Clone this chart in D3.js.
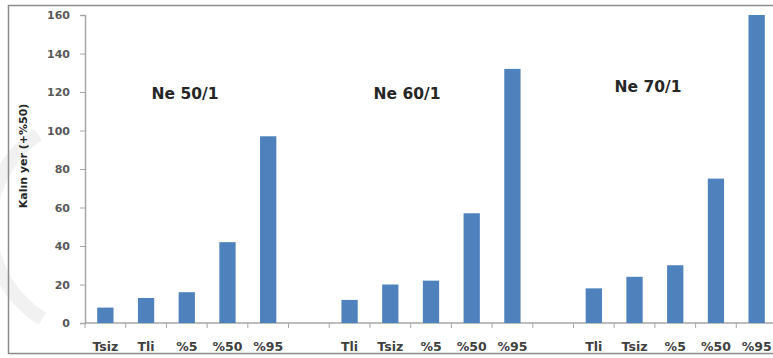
<!DOCTYPE html>
<html>
<head>
<meta charset="utf-8">
<script src="https://cdn.jsdelivr.net/npm/d3@7/dist/d3.min.js"></script>
<style>
  html, body { margin: 0; padding: 0; background: #fff; }
  svg { display: block; font-family: "DejaVu Sans", Verdana, sans-serif; }
</style>
</head>
<body>
<svg id="chart" width="773" height="358"></svg>
<script>
// Yarn count groups and their test categories
const groupNames = ["Ne 50/1", "Ne 60/1", "Ne 70/1"];
const labels50 = ["Tsiz", "Tli", "%5", "%50", "%95"];
const labels60 = ["Tli", "Tsiz", "%5", "%50", "%95"];
const labels70 = ["Tli", "Tsiz", "%5", "%50", "%95"];
// Thick places (+50%) per category
const values50 = [8, 13, 16, 42, 97];
const values60 = [12, 20, 22, 57, 132];
const values70 = [18, 24, 30, 75, 160];
const yTicks = [0, 20, 40, 60, 80, 100, 120, 140, 160];
const yTitle = "Kalın yer  (+%50)";

const groupLabels = [labels50, labels60, labels70];
const groupValues = [values50, values60, values70];

// Build slot list: five bars per group, one empty slot between groups
const slots = [];
groupNames.forEach((g, gi) => {
  groupLabels[gi].forEach((lab, i) => {
    slots.push({ key: g + "|" + lab, label: lab, value: groupValues[gi][i], group: g });
  });
  if (gi < groupNames.length - 1) slots.push({ key: "gap" + gi, label: "", value: null, group: null });
});

const svg = d3.select("#chart");
const W = 773, H = 358;
const plotLeft = 85, plotRight = 777, plotTop = 15, plotBottom = 323;

// Faint ring in the left margin
svg.append("path")
  .attr("d", d3.arc().innerRadius(103).outerRadius(117).startAngle(Math.PI + 0.55).endAngle(2 * Math.PI - 0.6)())
  .attr("transform", "translate(100,225)")
  .attr("fill", "#f1f1f1");

// Outer frame
svg.append("rect")
  .attr("x", 8.5).attr("y", 5.5)
  .attr("width", 780).attr("height", 348)
  .attr("fill", "none")
  .attr("stroke", "#8c8c8c")
  .attr("stroke-width", 1.5);

const x = d3.scaleBand()
  .domain(slots.map(d => d.key))
  .range([plotLeft, plotRight])
  .paddingInner(0.6)
  .paddingOuter(0.3);

const y = d3.scaleLinear().domain([0, 160]).range([plotBottom, plotTop]);

// Y axis
const yAxis = svg.append("g")
  .attr("transform", `translate(${plotLeft},0)`)
  .call(d3.axisLeft(y).tickValues(yTicks).tickSize(5).tickPadding(10));
yAxis.select(".domain").attr("stroke", "#a6a6a6").attr("stroke-width", 1.5);
yAxis.selectAll(".tick line").attr("stroke", "#a6a6a6");
yAxis.selectAll(".tick text")
  .attr("fill", "#595959")
  .attr("font-size", 11)
  .attr("font-weight", "bold")
  .attr("font-family", "DejaVu Sans, sans-serif");

// X axis baseline with ticks at slot boundaries
const bounds = d3.range(slots.length + 1).map(i => plotLeft + i * (plotRight - plotLeft) / slots.length);
svg.append("line")
  .attr("x1", plotLeft).attr("x2", W)
  .attr("y1", plotBottom).attr("y2", plotBottom)
  .attr("stroke", "#a6a6a6").attr("stroke-width", 1.5);
svg.append("g").selectAll("line")
  .data(bounds)
  .join("line")
  .attr("x1", d => d).attr("x2", d => d)
  .attr("y1", plotBottom).attr("y2", plotBottom + 5)
  .attr("stroke", "#a6a6a6");

// Bars
svg.append("g").selectAll("rect")
  .data(slots.filter(d => d.value !== null))
  .join("rect")
  .attr("x", d => x(d.key))
  .attr("y", d => y(d.value))
  .attr("width", x.bandwidth())
  .attr("height", d => y(0) - y(d.value))
  .attr("fill", "#4f81bd");

// Category labels
svg.append("g").selectAll("text")
  .data(slots.filter(d => d.label))
  .join("text")
  .attr("x", d => x(d.key) + x.bandwidth() / 2)
  .attr("y", 351)
  .attr("text-anchor", "middle")
  .attr("font-size", 12.5)
  .attr("font-weight", "bold")
  .attr("fill", "#404040")
  .text(d => d.label);

// Group titles
const groupPos = [{ x: 185, y: 99 }, { x: 407, y: 99 }, { x: 648, y: 92 }];
svg.append("g").selectAll("text")
  .data(groupNames)
  .join("text")
  .attr("x", (d, i) => groupPos[i].x)
  .attr("y", (d, i) => groupPos[i].y)
  .attr("text-anchor", "middle")
  .attr("font-size", 15.5)
  .attr("font-weight", "bold")
  .attr("fill", "#262626")
  .text(d => d);

// Y axis title
svg.append("text")
  .attr("transform", "translate(27,156) rotate(-90)")
  .attr("text-anchor", "middle")
  .attr("font-size", 11)
  .attr("font-weight", "bold")
  .attr("fill", "#262626")
  .text(yTitle);
</script>
</body>
</html>
